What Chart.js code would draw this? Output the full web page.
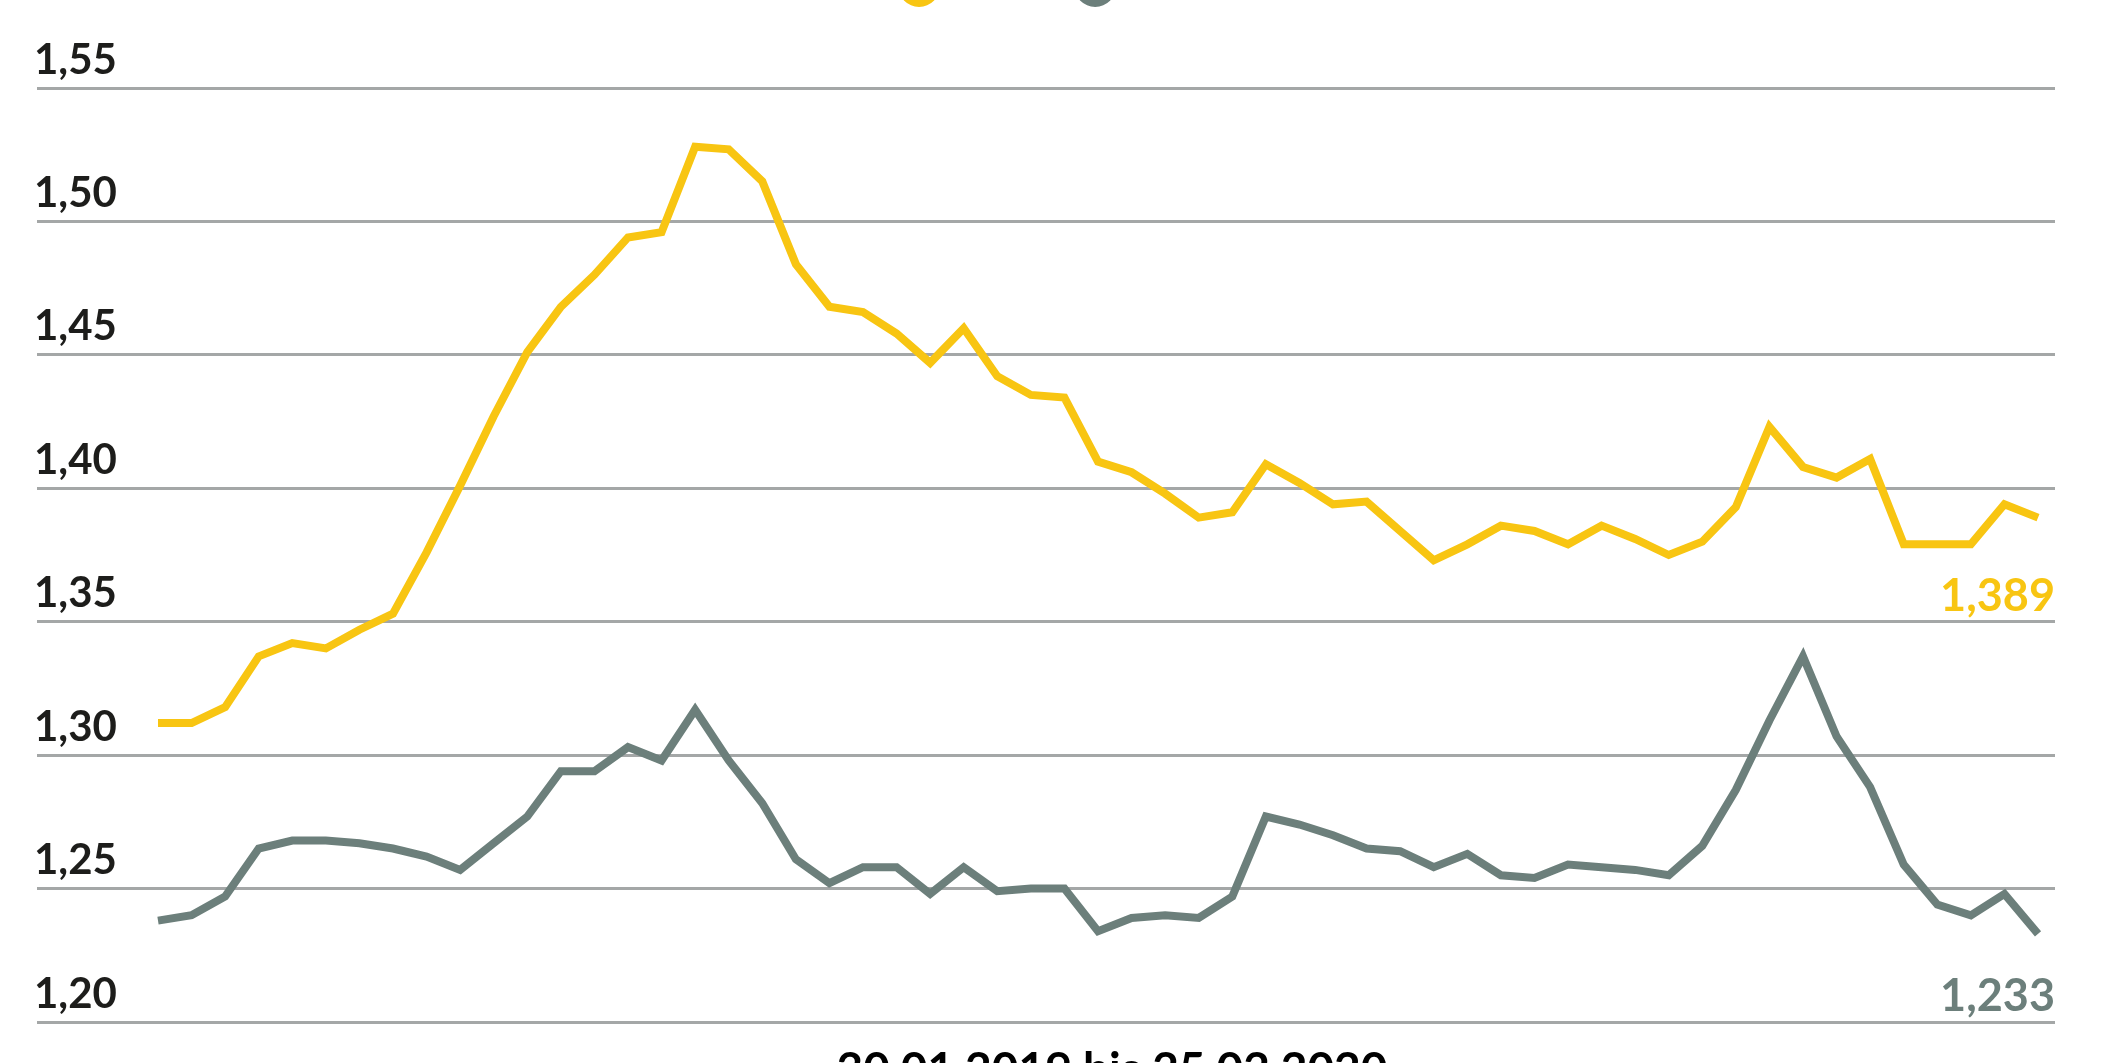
<!DOCTYPE html>
<html>
<head>
<meta charset="utf-8">
<script src="https://cdn.jsdelivr.net/npm/chart.js@4.4.1/dist/chart.umd.min.js"></script>
<style>
  html, body { margin: 0; padding: 0; background: #ffffff; }
  #wrap { position: relative; width: 2126px; height: 1063px; overflow: hidden; background: #ffffff; }
  #chart { position: absolute; left: 0; top: -57px; }
</style>
</head>
<body>
<div id="wrap"><canvas id="chart" width="2126" height="1120"></canvas></div>
<script>
// ---- data ----
const categories = [
  "30.01.2019","06.02.2019","13.02.2019","20.02.2019","27.02.2019","06.03.2019","13.03.2019","20.03.2019","27.03.2019",
  "03.04.2019","10.04.2019","17.04.2019","24.04.2019","01.05.2019","08.05.2019","15.05.2019","22.05.2019","29.05.2019",
  "05.06.2019","12.06.2019","19.06.2019","26.06.2019","03.07.2019","10.07.2019","17.07.2019","24.07.2019","31.07.2019",
  "07.08.2019","14.08.2019","21.08.2019","28.08.2019","04.09.2019","11.09.2019","18.09.2019","25.09.2019","02.10.2019",
  "09.10.2019","16.10.2019","23.10.2019","30.10.2019","06.11.2019","13.11.2019","20.11.2019","27.11.2019","04.12.2019",
  "11.12.2019","18.12.2019","25.12.2019","01.01.2020","08.01.2020","15.01.2020","22.01.2020","29.01.2020","05.02.2020",
  "12.02.2020","19.02.2020","25.02.2020"
];
const seriesNames = ["Super E10", "Diesel"];
const superE10 = [
  1.312,1.312,1.318,1.337,1.342,1.340,1.347,1.353,1.376,1.401,
  1.427,1.451,1.468,1.480,1.494,1.496,1.528,1.527,1.515,1.484,
  1.468,1.466,1.458,1.447,1.460,1.442,1.435,1.434,1.410,1.406,
  1.398,1.389,1.391,1.409,1.402,1.394,1.395,1.384,1.373,1.379,
  1.386,1.384,1.379,1.386,1.381,1.375,1.380,1.393,1.423,1.408,
  1.404,1.411,1.379,1.379,1.379,1.394,1.389
];
const diesel = [
  1.238,1.240,1.247,1.265,1.268,1.268,1.267,1.265,1.262,1.257,
  1.267,1.277,1.294,1.294,1.303,1.298,1.317,1.298,1.282,1.261,
  1.252,1.258,1.258,1.248,1.258,1.249,1.250,1.250,1.234,1.239,
  1.240,1.239,1.247,1.277,1.274,1.270,1.265,1.264,1.258,1.263,
  1.255,1.254,1.259,1.258,1.257,1.255,1.266,1.287,1.313,1.337,
  1.307,1.288,1.259,1.244,1.240,1.248,1.233
];
const yTickValues = [1.20, 1.25, 1.30, 1.35, 1.40, 1.45, 1.50, 1.55];
const periodLabel = "30.01.2019 bis 25.02.2020";

// ---- styling ----
const YELLOW = "#f8c512";
const GRAY = "#6c7f7b";
const GRID = "#a4a7a7";
const TEXT = "#1d1d1b";
const FONT = "Lato, 'Open Sans', sans-serif";

const fmt = v => v.toFixed(3).replace(".", ",");
const toPoints = arr => arr.map((v, i) => ({ x: i, y: v }));

const legendHeightPlugin = {
  id: "legendHeight",
  beforeInit(chart) {
    const orig = chart.legend.fit;
    chart.legend.fit = function () { orig.call(this); this.height = 145; };
  }
};

const annotations = {
  id: "annotations",
  afterDatasetsDraw(chart, args, opts) {
    const { ctx, chartArea, scales } = chart;
    ctx.save();
    chart.data.datasets.forEach((ds, i) => {
      const last = ds.data[ds.data.length - 1].y;
      const anchor = opts.anchors[i];
      ctx.font = "700 45px " + FONT;
      ctx.fillStyle = ds.borderColor;
      ctx.textAlign = "right";
      ctx.textBaseline = "alphabetic";
      ctx.fillText(fmt(last), chartArea.right, scales.y.getPixelForValue(anchor) - 11);
    });
    const xs = scales.x;
    const mid = (xs.getPixelForValue(0) + xs.getPixelForValue(categories.length - 1)) / 2 + 14;
    ctx.font = "700 46px " + FONT;
    ctx.fillStyle = "#000000";
    ctx.textAlign = "center";
    ctx.textBaseline = "top";
    ctx.fillText(periodLabel, mid, chartArea.bottom + 25);
    ctx.restore();
  }
};

new Chart(document.getElementById("chart"), {
  type: "line",
  data: {
    labels: categories,
    datasets: [
      { label: seriesNames[0], data: toPoints(superE10), borderColor: YELLOW, backgroundColor: YELLOW, borderWidth: 8 },
      { label: seriesNames[1], data: toPoints(diesel), borderColor: GRAY, backgroundColor: GRAY, borderWidth: 8 }
    ]
  },
  options: {
    responsive: false,
    devicePixelRatio: 1,
    animation: false,
    layout: { padding: { left: 37, right: 71, top: 0, bottom: 41 } },
    elements: {
      line: { tension: 0, borderJoinStyle: "miter", borderCapStyle: "butt" },
      point: { radius: 0, hoverRadius: 0 }
    },
    scales: {
      x: {
        type: "linear",
        display: false,
        min: -3.604,
        max: 56.506
      },
      y: {
        min: 1.20,
        max: 1.55,
        afterBuildTicks: s => { s.ticks = yTickValues.map(v => ({ value: v })); },
        border: { display: false },
        grid: { color: GRID, lineWidth: 3, drawTicks: false },
        ticks: {
          mirror: true,
          padding: -1,
          labelOffset: -28,
          color: TEXT,
          font: { family: FONT, size: 42, weight: "700" },
          callback: v => Number(v).toFixed(2).replace(".", ",")
        }
      }
    },
    plugins: {
      legend: {
        position: "top",
        labels: {
          usePointStyle: true,
          pointStyle: "circle",
          boxHeight: 24,
          padding: 31,
          color: TEXT,
          font: { family: FONT, size: 24, weight: "600" }
        }
      },
      tooltip: { enabled: false },
      annotations: { anchors: [1.35, 1.20] }
    }
  },
  plugins: [legendHeightPlugin, annotations]
});
</script>
</body>
</html>
